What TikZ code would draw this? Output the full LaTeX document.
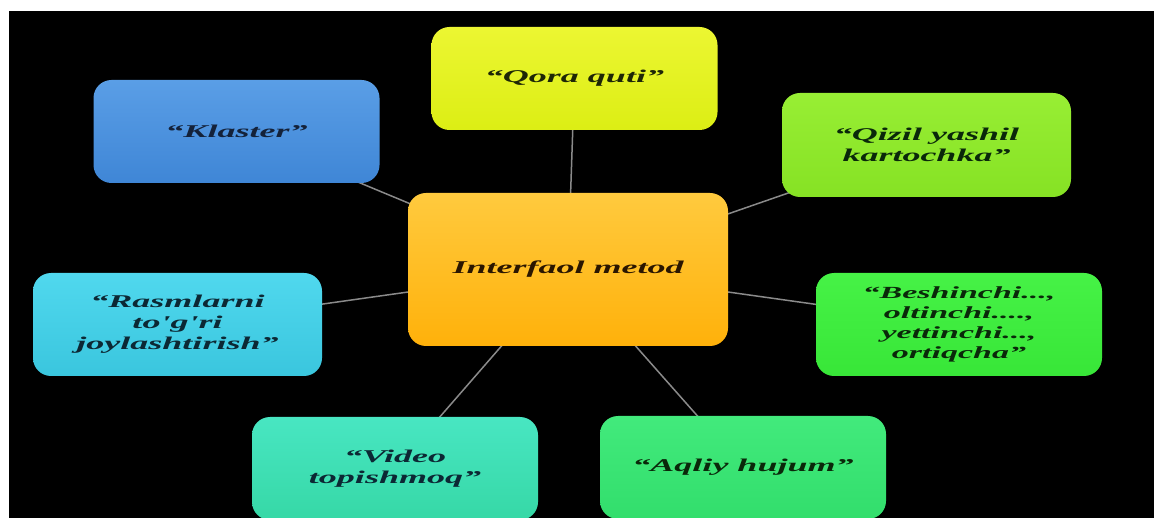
\documentclass[tikz,border=0pt]{standalone}
\usepackage{fontspec}
\newfontfamily\boxfont[FakeStretch=2.0]{Liberation Serif}
\pgfdeclarelayer{bg}
\pgfdeclarelayer{lines}
\pgfsetlayers{bg,lines,main}
\definecolor{lineg}{HTML}{8A8A8A}
\definecolor{klT}{HTML}{5A9EE6}\definecolor{klB}{HTML}{3F86D6}
\definecolor{qoT}{HTML}{ECF632}\definecolor{qoB}{HTML}{DCEE14}
\definecolor{ceT}{HTML}{FFCA3E}\definecolor{ceB}{HTML}{FFB10A}
\definecolor{qiT}{HTML}{98EE34}\definecolor{qiB}{HTML}{86E224}
\definecolor{beT}{HTML}{46F246}\definecolor{beB}{HTML}{38E638}
\definecolor{aqT}{HTML}{42EA7C}\definecolor{aqB}{HTML}{32DE6C}
\definecolor{viT}{HTML}{48E6C2}\definecolor{viB}{HTML}{36D8A6}
\definecolor{raT}{HTML}{50D8EE}\definecolor{raB}{HTML}{3AC6DE}
\definecolor{txtA}{HTML}{14223A}
\definecolor{txtB}{HTML}{1E2606}
\definecolor{txtC}{HTML}{2A1600}
\definecolor{txtD}{HTML}{0A280A}
\definecolor{txtE}{HTML}{0C2834}
\tikzset{
  mbox/.style={rounded corners=18pt, minimum width=286pt, minimum height=103pt,
    align=center, inner sep=0pt,
    font=\boxfont\bfseries\itshape\fontsize{18}{21}\selectfont},
  conn/.style={draw=lineg, line width=1.5pt}
}
\begin{document}
\begin{tikzpicture}[x=1pt,y=-1pt]
\useasboundingbox (0,0) rectangle (1154,518);
\begin{pgfonlayer}{bg}
\fill[white] (0,0) rectangle (1154,518);
\fill[black] (9,11) rectangle (1160,525);
\end{pgfonlayer}

\node[mbox, top color=klT, bottom color=klB, text=txtA] (klaster) at (236.5,131.5) {“Klaster”};
\node[mbox, top color=qoT, bottom color=qoB, text=txtB] (qora) at (574.5,78.5) {“Qora quti”};
\node[mbox, minimum width=320pt, minimum height=153pt, top color=ceT, bottom color=ceB, text=txtC] (center) at (568,269.5) {Interfaol metod};
\node[mbox, minimum width=289pt, minimum height=104pt, top color=qiT, bottom color=qiB, text=txtD] (qizil) at (926.5,145) {“Qizil yashil\\kartochka”};
\node[mbox, top color=beT, bottom color=beB, text=txtD, font=\boxfont\bfseries\itshape\fontsize{17}{20}\selectfont] (besh) at (959,324.5) {“Beshinchi...,\\oltinchi....,\\yettinchi...,\\ortiqcha”};
\node[mbox, top color=aqT, bottom color=aqB, text=txtD] (aqliy) at (743,467.5) {“Aqliy hujum”};
\node[mbox, top color=viT, bottom color=viB, text=txtE] (video) at (395,468.5) {“Video\\topishmoq”};
\node[mbox, minimum width=289pt, top color=raT, bottom color=raB, text=txtE] (rasm) at (177.5,324.5) {“Rasmlarni\\to'g'ri\\joylashtirish”};

\begin{pgfonlayer}{lines}
\draw[conn] (klaster.center) -- (center.center);
\draw[conn] (qora.center) -- (center.center);
\draw[conn] (qizil.center) -- (center.center);
\draw[conn] (besh.center) -- (center.center);
\draw[conn] (aqliy.center) -- (center.center);
\draw[conn] (video.center) -- (center.center);
\draw[conn] (rasm.center) -- (center.center);
\end{pgfonlayer}
\end{tikzpicture}
\end{document}
